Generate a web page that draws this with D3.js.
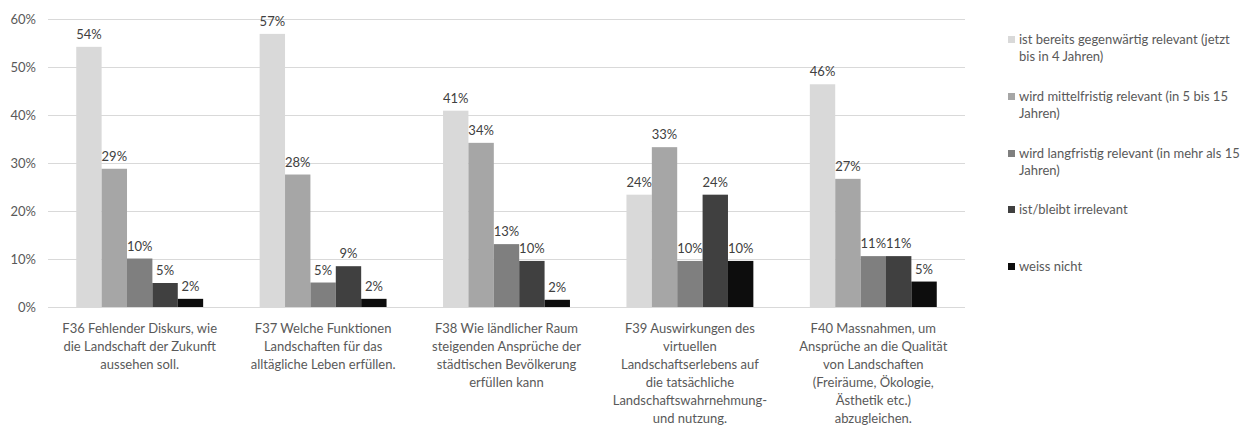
<!DOCTYPE html>
<html><head><meta charset="utf-8">
<script src="https://cdn.jsdelivr.net/npm/d3@7"></script>
<style>body{margin:0;background:#fff}svg{display:block}</style>
</head><body>
<svg id="c" width="1250" height="437"></svg>
<script>
const categories = ["F36","F37","F38","F39","F40"];
const categoryLabels = [
  ["F36 Fehlender Diskurs, wie","die Landschaft der Zukunft","aussehen soll."],
  ["F37 Welche Funktionen","Landschaften für das","alltägliche Leben erfüllen."],
  ["F38 Wie ländlicher Raum","steigenden Ansprüche der","städtischen Bevölkerung","erfüllen kann"],
  ["F39 Auswirkungen des","virtuellen","Landschaftserlebens auf","die tatsächliche","Landschaftswahrnehmung-","und nutzung."],
  ["F40 Massnahmen, um","Ansprüche an die Qualität","von Landschaften","(Freiräume, Ökologie,","Ästhetik etc.)","abzugleichen."]
];
const seriesNames = [
  "ist bereits gegenwärtig relevant (jetzt bis in 4 Jahren)",
  "wird mittelfristig relevant (in 5 bis 15 Jahren)",
  "wird langfristig relevant (in mehr als 15 Jahren)",
  "ist/bleibt irrelevant",
  "weiss nicht"
];
const legendLines = [
  ["ist bereits gegenwärtig relevant (jetzt","bis in 4 Jahren)"],
  ["wird mittelfristig relevant (in 5 bis 15","Jahren)"],
  ["wird langfristig relevant (in mehr als 15","Jahren)"],
  ["ist/bleibt irrelevant"],
  ["weiss nicht"]
];
const sCurrent = [0.542, 0.569, 0.409, 0.234, 0.464];
const sMid     = [0.288, 0.276, 0.342, 0.333, 0.267];
const sLong    = [0.101, 0.051, 0.131, 0.096, 0.106];
const sIrrel   = [0.050, 0.085, 0.096, 0.234, 0.106];
const sUnknown = [0.017, 0.017, 0.015, 0.096, 0.053];
const seriesValues = [sCurrent, sMid, sLong, sIrrel, sUnknown];
const dataLabels = [
  ["54%","57%","41%","24%","46%"],
  ["29%","28%","34%","33%","27%"],
  ["10%","5%","13%","10%","11%"],
  ["5%","9%","10%","24%","11%"],
  ["2%","2%","2%","10%","5%"]
];
const yTicks = [0,0.1,0.2,0.3,0.4,0.5,0.6];
const colors = ["#d9d9d9","#a6a6a6","#7f7f7f","#404040","#0d0d0d"];

const font = "Lato, 'Open Sans', sans-serif";
const svg = d3.select("#c");
const mLeft = 48, mRight = 965, mTop = 19, mBottom = 307;

const x0 = d3.scaleBand().domain(categories).range([mLeft, mRight]).paddingInner(0.308).paddingOuter(0.154);
const x1 = d3.scaleBand().domain(d3.range(5)).range([0, x0.bandwidth()]);
const y = d3.scaleLinear().domain([0, 0.6]).range([mBottom, mTop]);

svg.append("g").selectAll("line").data(yTicks).join("line")
  .attr("x1", mLeft).attr("x2", mRight)
  .attr("y1", d => Math.round(y(d)) + 0.5).attr("y2", d => Math.round(y(d)) + 0.5)
  .attr("stroke", "#d9d9d9").attr("stroke-width", 1);

const yAxis = d3.axisLeft(y).tickValues(yTicks).tickFormat(d3.format(".0%")).tickSize(0).tickPadding(0);
const ya = svg.append("g").attr("transform", `translate(${mLeft-12},0)`).call(yAxis);
ya.select(".domain").remove();
ya.selectAll("text").attr("font-family", font).attr("font-size", 13).attr("fill", "#595959");

const groups = svg.append("g").selectAll("g").data(categories).join("g")
  .attr("transform", d => `translate(${x0(d)},0)`);
groups.each(function(cat, ci) {
  const g = d3.select(this);
  seriesValues.forEach((vals, si) => {
    g.append("rect")
      .attr("x", x1(si)).attr("width", x1.bandwidth())
      .attr("y", y(vals[ci])).attr("height", mBottom - y(vals[ci]))
      .attr("fill", colors[si]);
    g.append("text")
      .attr("x", x1(si) + x1.bandwidth()/2).attr("y", y(vals[ci]) - 8)
      .attr("text-anchor", "middle")
      .attr("font-family", font).attr("font-size", 13).attr("fill", "#404040")
      .text(dataLabels[si][ci]);
  });
});

const xa = svg.append("g");
categories.forEach((c, ci) => {
  const cx = x0(c) + x0.bandwidth()/2;
  const t = xa.append("text")
    .attr("text-anchor", "middle")
    .attr("font-family", font).attr("font-size", 13).attr("fill", "#595959");
  categoryLabels[ci].forEach((line, li) => {
    t.append("tspan").attr("x", cx).attr("y", 333 + li*18).text(line);
  });
});

const legY = [44, 101, 158, 214, 271];
const leg = svg.append("g");
seriesNames.forEach((n, i) => {
  leg.append("rect").attr("x", 1008).attr("y", legY[i] - 8).attr("width", 7).attr("height", 7).attr("fill", colors[i]);
  const t = leg.append("text").attr("font-family", font).attr("font-size", 13).attr("fill", "#595959");
  legendLines[i].forEach((line, li) => {
    t.append("tspan").attr("x", 1019).attr("y", legY[i] + li*17).text(line);
  });
});
</script>
</body></html>
